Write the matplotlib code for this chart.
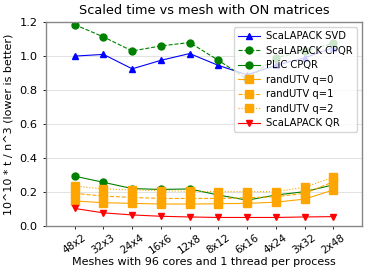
import matplotlib
matplotlib.use("Agg")
import matplotlib.pyplot as plt
import numpy as np

MESHES = ["48x2", "32x3", "24x4", "16x6", "12x8", "8x12", "6x16", "4x24", "3x32", "2x48"]

svd = [1.00, 1.01, 0.925, 0.975, 1.015, 0.945, 0.89, 0.945, 0.99, 1.05]
scalapack_cpqr = [1.185, 1.113, 1.03, 1.06, 1.08, 0.975, 0.865, 0.99, 1.03, 1.075]
plic_cpqr = [0.293, 0.257, 0.22, 0.215, 0.218, 0.182, 0.152, 0.182, 0.202, 0.242]
randutv_q0 = [0.147, 0.137, 0.133, 0.129, 0.129, 0.131, 0.133, 0.140, 0.158, 0.212]
randutv_q1 = [0.192, 0.176, 0.168, 0.162, 0.162, 0.162, 0.166, 0.172, 0.192, 0.260]
randutv_q2 = [0.235, 0.218, 0.212, 0.208, 0.204, 0.202, 0.202, 0.202, 0.228, 0.287]
scalapack_qr = [0.103, 0.077, 0.065, 0.057, 0.053, 0.050, 0.050, 0.050, 0.053, 0.055]

x = np.arange(len(MESHES))

fig, ax = plt.subplots(figsize=(3.74, 2.8), dpi=100)
fig.subplots_adjust(left=0.123, right=0.968, top=0.921, bottom=0.193)

lw = 0.8
ax.plot(x, svd, "-^", color="blue", lw=lw, ms=4.5, label="ScaLAPACK SVD")
ax.plot(x, scalapack_cpqr, "--o", color="green", lw=lw, ms=5, label="ScaLAPACK CPQR")
ax.plot(x, plic_cpqr, "-o", color="green", lw=lw, ms=5, label="PLiC CPQR")
ax.plot(x, randutv_q0, "-s", color="orange", lw=lw, ms=6, label="randUTV q=0")
ax.plot(x, randutv_q1, "--s", color="orange", lw=lw, ms=6, label="randUTV q=1")
ax.plot(x, randutv_q2, ":s", color="orange", lw=lw, ms=6, label="randUTV q=2")
ax.plot(x, scalapack_qr, "-v", color="red", lw=lw, ms=4.5, label="ScaLAPACK QR")

ax.set_xlim(-1, 10)
ax.set_ylim(0, 1.2)
ax.set_xticks(x)
ax.set_xticklabels(MESHES, rotation=35, fontsize=7.5)
ax.set_yticks([0.0, 0.2, 0.4, 0.6, 0.8, 1.0, 1.2])
ax.tick_params(axis="y", labelsize=8.2)
ax.tick_params(length=2.5, width=0.6)
ax.tick_params(axis="x", pad=2)
ax.yaxis.grid(True, color="#dddddd", lw=0.6)
ax.set_axisbelow(True)
for s in ax.spines.values():
    s.set_color("#888888")
    s.set_linewidth(1.0)

ax.set_title("Scaled time vs mesh with ON matrices", fontsize=9.3)
ax.set_xlabel("Meshes with 96 cores and 1 thread per process", fontsize=8.0, labelpad=1)
ax.set_ylabel("10^10 * t / n^3 (lower is better)", fontsize=8.0)
ax.legend(loc="upper right", fontsize=7.2, borderaxespad=0.5, labelspacing=0.45,
          handlelength=2.2, borderpad=0.4, handletextpad=0.6)

fig.savefig("out.png", dpi=100)
